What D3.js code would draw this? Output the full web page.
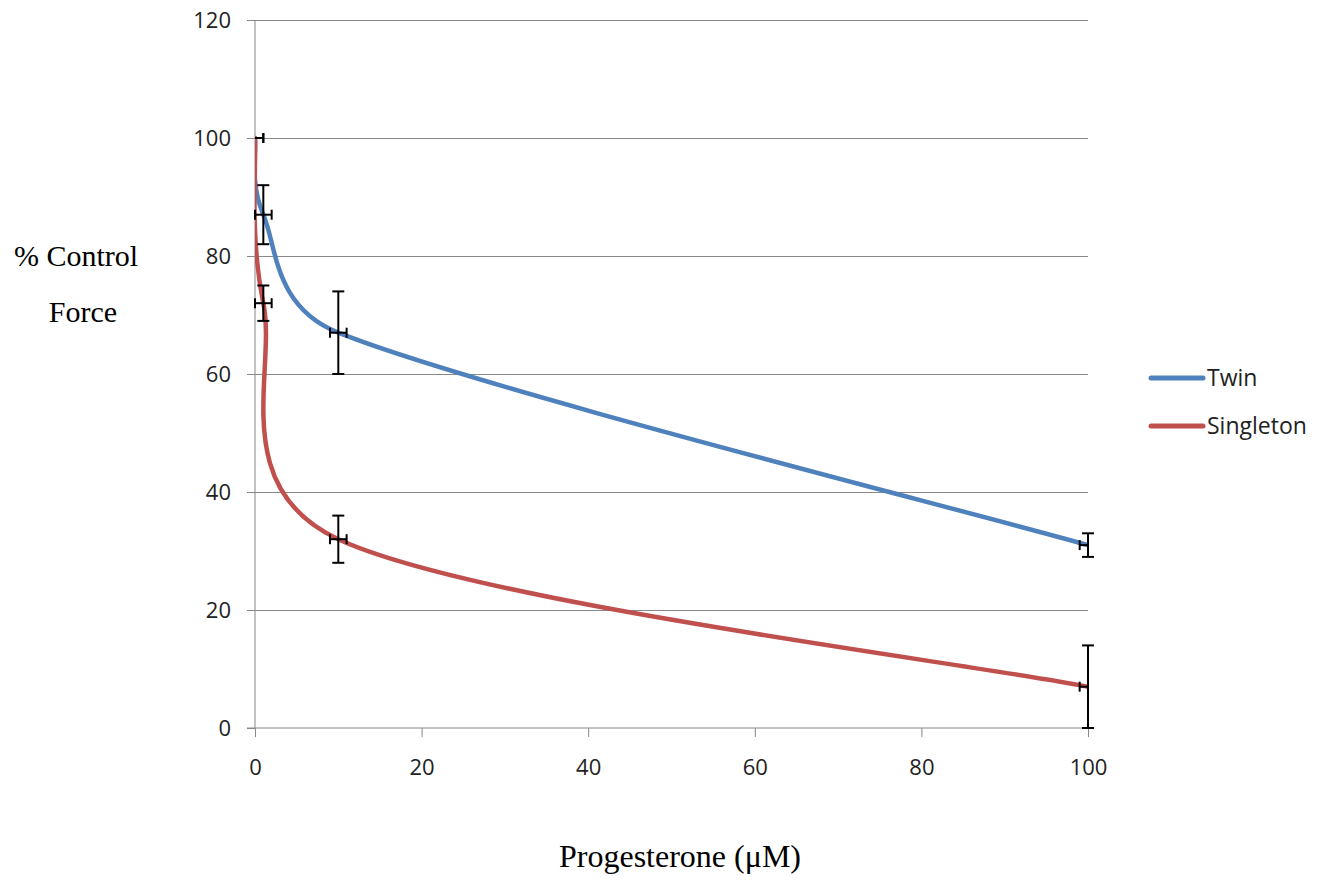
<!DOCTYPE html>
<html>
<head>
<meta charset="utf-8">
<script src="https://cdn.jsdelivr.net/npm/d3@7"></script>
<style>
  html, body { margin: 0; padding: 0; background: #fff; }
  svg { display: block; }
</style>
</head>
<body>
<svg id="chart" width="1320" height="888"></svg>
<script>
// ---- Data ----
const concentrations = [0, 1, 10, 100];          // Progesterone (µM)
const twinValues = [100, 87, 67, 31];            // % control force
const singletonValues = [100, 72, 32, 7];
const twinErrors = [0, 5, 7, 2];                 // ± y error
const singletonErrors = [0, 3, 4, 7];
const xErrors = [1, 1, 1, 1];                    // ± x error
const xTicks = [0, 20, 40, 60, 80, 100];
const yTicks = [0, 20, 40, 60, 80, 100, 120];
const seriesNames = ["Twin", "Singleton"];
const seriesColors = ["#4F81BD", "#C0504D"];

// ---- Layout ----
const svg = d3.select("#chart");
const x = d3.scaleLinear().domain([0, 100]).range([255, 1088]);
const y = d3.scaleLinear().domain([0, 120]).range([728, 20]);

const gridColor = "#888888";
const tickFont = "'Open Sans', sans-serif";

svg.append("defs").append("clipPath").attr("id", "plotClip")
  .append("rect").attr("x", x(0)).attr("y", y(120))
  .attr("width", x(100) - x(0)).attr("height", y(0) - y(120));

// gridlines
svg.append("g").selectAll("line").data(yTicks.filter(d => d > 0)).join("line")
  .attr("x1", x(0)).attr("x2", x(100))
  .attr("y1", d => y(d)).attr("y2", d => y(d))
  .attr("stroke", gridColor).attr("stroke-width", 1).attr("shape-rendering", "crispEdges");

// y axis
const yAxis = d3.axisLeft(y).tickValues(yTicks).tickSize(8).tickPadding(16).tickFormat(d3.format("d"));
const gy = svg.append("g").attr("transform", `translate(${x(0)},0)`).call(yAxis);
gy.select(".domain").attr("stroke", gridColor).attr("d", `M0,${y(120)}V${y(0)}`);
gy.selectAll(".tick line").attr("stroke", gridColor);
gy.selectAll(".tick text").attr("font-family", tickFont).attr("font-size", 22).attr("fill", "#222");

// x axis
const xAxis = d3.axisBottom(x).tickValues(xTicks).tickSize(9).tickPadding(22).tickFormat(d3.format("d"));
const gx = svg.append("g").attr("transform", `translate(0,${y(0)})`).call(xAxis);
gx.select(".domain").attr("stroke", gridColor).attr("d", `M${x(0) - 8},0H${x(100)}`);
gx.selectAll(".tick line").attr("stroke", gridColor);
gx.selectAll(".tick text").attr("font-family", tickFont).attr("font-size", 22).attr("fill", "#222");

// ---- Excel-like smoothed path ----
function excelSmoothPath(pts) {
  const p = d3.path();
  const n = pts.length;
  const dist = (a, b) => Math.hypot(b[0] - a[0], b[1] - a[1]);
  p.moveTo(pts[0][0], pts[0][1]);
  for (let i = 0; i < n - 1; i++) {
    const p0 = pts[Math.max(0, i - 1)], p1 = pts[i], p2 = pts[i + 1], p3 = pts[Math.min(n - 1, i + 2)];
    const d02 = dist(p0, p2), d12 = dist(p1, p2), d13 = dist(p1, p3);
    let f1 = 1 / 6, f2 = 1 / 6;
    if (d02 / 6 >= d12 / 2 && d02 > 0) f1 = d12 / (2 * d02);
    if (d13 / 6 >= d12 / 2 && d13 > 0) f2 = d12 / (2 * d13);
    const c1 = [p1[0] + f1 * (p2[0] - p0[0]), p1[1] + f1 * (p2[1] - p0[1])];
    const c2 = [p2[0] - f2 * (p3[0] - p1[0]), p2[1] - f2 * (p3[1] - p1[1])];
    p.bezierCurveTo(c1[0], c1[1], c2[0], c2[1], p2[0], p2[1]);
  }
  return p.toString();
}

const series = [
  { name: seriesNames[0], color: seriesColors[0], values: twinValues, errors: twinErrors },
  { name: seriesNames[1], color: seriesColors[1], values: singletonValues, errors: singletonErrors }
];

const linesG = svg.append("g").attr("clip-path", "url(#plotClip)");
series.forEach(s => {
  const pts = concentrations.map((c, i) => [x(c), y(s.values[i])]);
  linesG.append("path").attr("d", excelSmoothPath(pts))
    .attr("fill", "none").attr("stroke", s.color).attr("stroke-width", 4.5)
    .attr("stroke-linecap", "round");
});

// ---- Error bars ----
const eb = svg.append("g").attr("stroke", "#000").attr("stroke-width", 2).attr("fill", "none");
series.forEach(s => {
  concentrations.forEach((c, i) => {
    const v = s.values[i];
    const e = s.errors[i];
    if (e > 0) {
      const lo = Math.max(0, v - e), hi = Math.min(120, v + e);
      eb.append("line").attr("x1", x(c)).attr("x2", x(c)).attr("y1", y(lo)).attr("y2", y(hi));
      [lo, hi].forEach(b => eb.append("line")
        .attr("x1", x(c) - 6).attr("x2", x(c) + 6).attr("y1", y(b)).attr("y2", y(b)));
    }
    const xe = xErrors[i];
    if (xe > 0) {
      const l = Math.max(0, c - xe), r = Math.min(100, c + xe);
      eb.append("line").attr("x1", x(l)).attr("x2", x(r)).attr("y1", y(v)).attr("y2", y(v));
      [[l, c - xe], [r, c + xe]].forEach(([b, raw]) => {
        if (b === raw) eb.append("line").attr("x1", x(b)).attr("x2", x(b))
          .attr("y1", y(v) - 5).attr("y2", y(v) + 5);
      });
    }
  });
});

// ---- Legend ----
const legend = svg.append("g");
series.forEach((s, i) => {
  const ly = 378 + i * 48;
  legend.append("line").attr("x1", 1151).attr("x2", 1203).attr("y1", ly).attr("y2", ly)
    .attr("stroke", s.color).attr("stroke-width", 5).attr("stroke-linecap", "round");
  legend.append("text").attr("x", 1207).attr("y", ly).attr("dy", "0.35em")
    .attr("font-family", tickFont).attr("font-size", 23).attr("fill", "#222").text(s.name);
});

// ---- Axis titles ----
const titleFont = "'Liberation Serif', 'Times New Roman', serif";
svg.append("text").attr("x", 76).attr("y", 266).attr("text-anchor", "middle")
  .attr("font-family", titleFont).attr("font-size", 30).attr("fill", "#000").text("% Control");
svg.append("text").attr("x", 83).attr("y", 322).attr("text-anchor", "middle")
  .attr("font-family", titleFont).attr("font-size", 30).attr("fill", "#000").text("Force");
svg.append("text").attr("x", 680).attr("y", 867).attr("text-anchor", "middle")
  .attr("font-family", titleFont).attr("font-size", 32).attr("fill", "#000").text("Progesterone (μM)");
</script>
</body>
</html>
